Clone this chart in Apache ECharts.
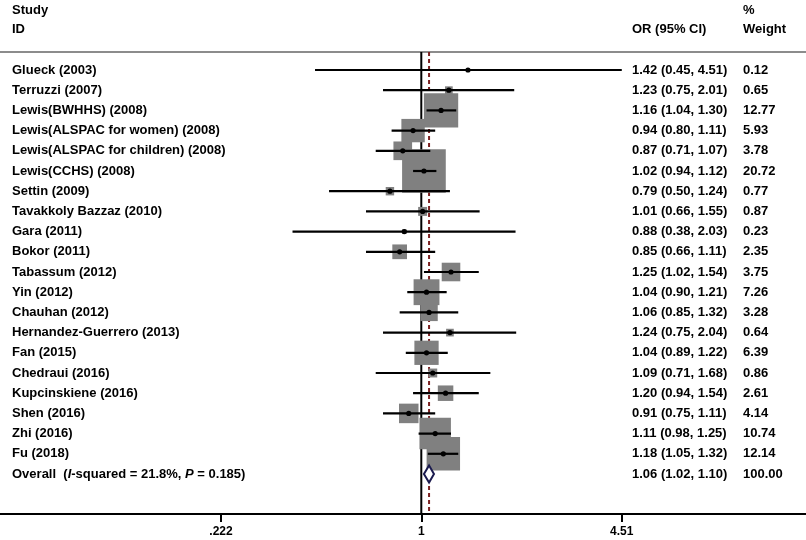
<!DOCTYPE html>
<html>
<head>
<meta charset="utf-8">
<script src="https://cdn.jsdelivr.net/npm/echarts@6/dist/echarts.min.js"></script>
<style>
  html, body { margin: 0; padding: 0; background: #fff; }
  #chart { width: 806px; height: 540px; }
</style>
</head>
<body>
<div id="chart"></div>
<script>
// study rows, top to bottom
const studies = [
  'Glueck (2003)', 'Terruzzi (2007)', 'Lewis(BWHHS) (2008)',
  'Lewis(ALSPAC for women) (2008)', 'Lewis(ALSPAC for children) (2008)',
  'Lewis(CCHS) (2008)', 'Settin (2009)', 'Tavakkoly Bazzaz (2010)',
  'Gara (2011)', 'Bokor (2011)', 'Tabassum (2012)', 'Yin (2012)',
  'Chauhan (2012)', 'Hernandez-Guerrero (2013)', 'Fan (2015)',
  'Chedraui (2016)', 'Kupcinskiene (2016)', 'Shen (2016)', 'Zhi (2016)',
  'Fu (2018)'
];
const orVals = [1.42, 1.23, 1.16, 0.94, 0.87, 1.02, 0.79, 1.01, 0.88, 0.85,
  1.25, 1.04, 1.06, 1.24, 1.04, 1.09, 1.20, 0.91, 1.11, 1.18];
const ciLow = [0.45, 0.75, 1.04, 0.80, 0.71, 0.94, 0.50, 0.66, 0.38, 0.66,
  1.02, 0.90, 0.85, 0.75, 0.89, 0.71, 0.94, 0.75, 0.98, 1.05];
const ciHigh = [4.51, 2.01, 1.30, 1.11, 1.07, 1.12, 1.24, 1.55, 2.03, 1.11,
  1.54, 1.21, 1.32, 2.04, 1.22, 1.68, 1.54, 1.11, 1.25, 1.32];
const weights = [0.12, 0.65, 12.77, 5.93, 3.78, 20.72, 0.77, 0.87, 0.23, 2.35,
  3.75, 7.26, 3.28, 0.64, 6.39, 0.86, 2.61, 4.14, 10.74, 12.14];

const overallOr = 1.06;
const overallLow = 1.02;
const overallHigh = 1.10;
const overallWeight = 100.00;

const tickValues = [0.222, 1, 4.51];
const tickLabels = ['.222', '1', '4.51'];

// layout (pixels)
const W = 806, H = 540;
const AXIS_Y = 514, TOP_Y = 52;
const ROW0_Y = 70, ROW_H = 20.2;
const NULL_X = 421.3, PX_PER_LN = 133.1;
const COL_STUDY = 12, COL_OR = 632, COL_WT = 743;
const BOX_SCALE = 9.6;
const FONT = 'bold 13px "Liberation Sans", Arial, sans-serif';

const xMin = (0 - NULL_X) / PX_PER_LN;
const xMax = (W - NULL_X) / PX_PER_LN;
const yMin = (TOP_Y - ROW0_Y) / ROW_H;
const yMax = (AXIS_Y - ROW0_Y) / ROW_H;

const ln = Math.log;
const f2 = (v) => v.toFixed(2);

const rows = studies.map((s, i) => [i, ln(orVals[i]), ln(ciLow[i]), ln(ciHigh[i]), weights[i]]);
const overallRow = [studies.length, ln(overallOr), ln(overallLow), ln(overallHigh), overallWeight];

const chart = echarts.init(document.getElementById('chart'), null, { renderer: 'canvas' });

function txt(x, y, text, rich) {
  return {
    type: 'text',
    style: {
      x, y, text,
      font: FONT,
      fill: '#000',
      textAlign: 'left',
      textVerticalAlign: 'middle',
      rich: rich || undefined
    }
  };
}

const option = {
  animation: false,
  backgroundColor: '#fff',
  grid: { left: 0, right: 0, top: TOP_Y, bottom: H - AXIS_Y, containLabel: false },
  xAxis: [
    {
      type: 'value',
      min: xMin,
      max: xMax,
      position: 'bottom',
      axisLine: { onZero: false, lineStyle: { color: '#000', width: 2 } },
      axisTick: {
        show: true, inside: false, length: 8,
        customValues: tickValues.map(ln),
        lineStyle: { color: '#000', width: 2 }
      },
      axisLabel: {
        customValues: tickValues.map(ln),
        formatter: (v) => {
          let best = 0;
          tickValues.forEach((t, k) => {
            if (Math.abs(ln(t) - v) < Math.abs(ln(tickValues[best]) - v)) best = k;
          });
          return tickLabels[best];
        },
        color: '#000',
        fontFamily: '"Liberation Sans", Arial, sans-serif',
        fontWeight: 'bold',
        fontSize: 12,
        margin: 12
      },
      splitLine: { show: false }
    },
    {
      type: 'value',
      min: xMin,
      max: xMax,
      position: 'top',
      axisLine: { onZero: false, lineStyle: { color: '#8c8c8c', width: 2 } },
      axisTick: { show: false },
      axisLabel: { show: false },
      splitLine: { show: false }
    }
  ],
  yAxis: {
    type: 'value',
    inverse: true,
    min: yMin,
    max: yMax,
    show: false
  },
  graphic: [
    { type: 'text', x: COL_STUDY, y: 10, style: { text: 'Study', font: FONT, fill: '#000', textVerticalAlign: 'middle' } },
    { type: 'text', x: COL_STUDY, y: 29, style: { text: 'ID', font: FONT, fill: '#000', textVerticalAlign: 'middle' } },
    { type: 'text', x: COL_OR, y: 29, style: { text: 'OR (95% CI)', font: FONT, fill: '#000', textVerticalAlign: 'middle' } },
    { type: 'text', x: COL_WT, y: 10, style: { text: '%', font: FONT, fill: '#000', textVerticalAlign: 'middle' } },
    { type: 'text', x: COL_WT, y: 29, style: { text: 'Weight', font: FONT, fill: '#000', textVerticalAlign: 'middle' } }
  ],
  series: [
    {
      // reference lines: null (OR = 1) and pooled estimate
      type: 'custom',
      z: 1,
      silent: true,
      data: [[0, 0], [ln(overallOr), 1]],
      renderItem: (params, api) => {
        const x = api.coord([api.value(0), 0])[0];
        const cs = params.coordSys;
        const pooled = api.value(1) === 1;
        return {
          type: 'line',
          shape: { x1: x, y1: cs.y, x2: x, y2: cs.y + cs.height },
          style: pooled
            ? { stroke: '#7b2020', lineWidth: 2, lineDash: [4, 3] }
            : { stroke: '#000', lineWidth: 2 }
        };
      }
    },
    {
      // weight boxes
      type: 'custom',
      z: 2,
      silent: true,
      data: rows,
      encode: { x: [1, 2, 3], y: 0 },
      renderItem: (params, api) => {
        const row = api.value(0);
        const [cx, cy] = api.coord([api.value(1), row]);
        const side = BOX_SCALE * Math.sqrt(api.value(4));
        return {
          type: 'rect',
          shape: { x: cx - side / 2, y: cy - side / 2, width: side, height: side },
          style: { fill: '#808080' }
        };
      }
    },
    {
      // CIs, points, diamond and text columns
      type: 'custom',
      z: 3,
      silent: true,
      data: rows.concat([overallRow]),
      encode: { x: [1, 2, 3], y: 0 },
      renderItem: (params, api) => {
        const i = params.dataIndex;
        const row = api.value(0);
        const [cx, cy] = api.coord([api.value(1), row]);
        const lo = api.coord([api.value(2), row])[0];
        const hi = api.coord([api.value(3), row])[0];
        const children = [];
        if (i < studies.length) {
          children.push({
            type: 'line',
            shape: { x1: lo, y1: cy, x2: hi, y2: cy },
            style: { stroke: '#000', lineWidth: 2.2 }
          });
          children.push({
            type: 'circle',
            shape: { cx, cy, r: 2.6 },
            style: { fill: '#000' }
          });
          children.push(txt(COL_STUDY, cy, studies[i]));
          children.push(txt(COL_OR, cy, `${f2(orVals[i])} (${f2(ciLow[i])}, ${f2(ciHigh[i])})`));
          children.push(txt(COL_WT, cy, f2(weights[i])));
        } else {
          children.push({
            type: 'polygon',
            shape: { points: [[lo, cy], [cx, cy - 8.5], [hi, cy], [cx, cy + 8.5]] },
            style: { fill: '#fff', stroke: '#1a1a4e', lineWidth: 2 }
          });
          children.push(txt(COL_STUDY, cy, 'Overall  ({it|I}-squared = 21.8%, {it|P} = 0.185)',
            { it: { font: 'italic ' + FONT, fill: '#000' } }));
          children.push(txt(COL_OR, cy, `${f2(overallOr)} (${f2(overallLow)}, ${f2(overallHigh)})`));
          children.push(txt(COL_WT, cy, f2(overallWeight)));
        }
        return { type: 'group', children };
      }
    }
  ]
};

chart.setOption(option);
</script>
</body>
</html>
